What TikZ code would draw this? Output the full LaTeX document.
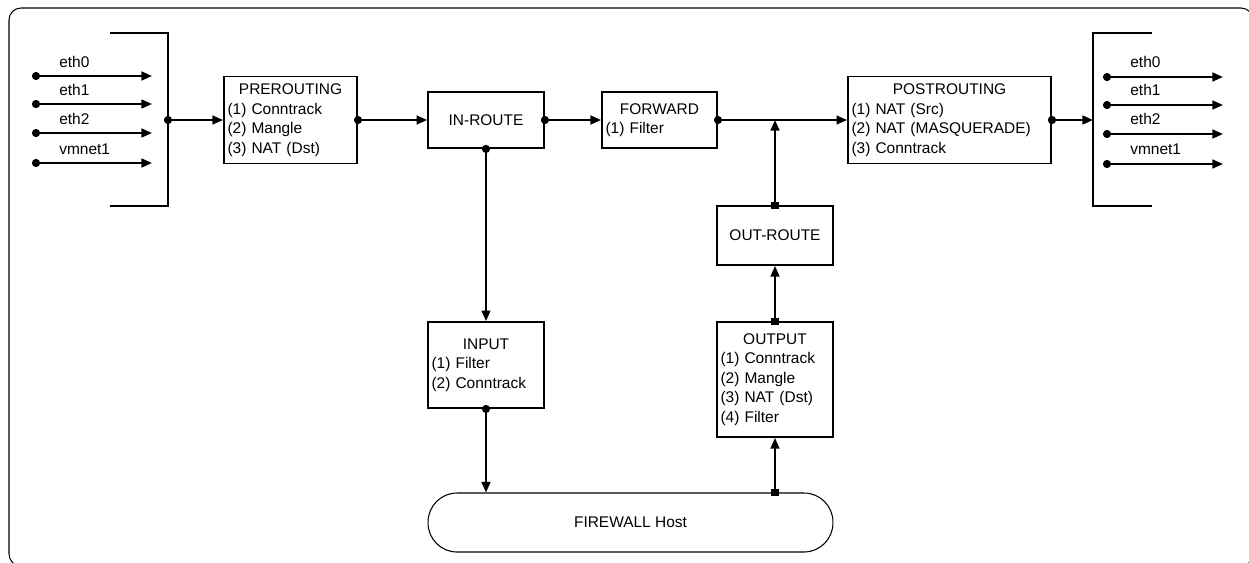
\documentclass[tikz,border=0pt]{standalone}
\usepackage{fontspec}
\setmainfont{Liberation Sans}
\usetikzlibrary{arrows.meta,calc}
\newcommand{\chainhead}[1]{\makebox[\hsize]{#1}}
\tikzset{
  chain node/.style={draw,line width=1.1pt,inner xsep=2pt,inner ysep=0pt,align=left},
  route node/.style={draw,line width=1.1pt,inner sep=0pt,align=center,
    minimum width=2.32cm},
  host node/.style={draw,line width=0.6pt,rounded corners=0.58cm,inner sep=0pt,
    minimum width=8.1cm,minimum height=1.18cm},
  port label/.style={anchor=west,inner sep=0pt},
  dot arrow/.style={line width=1.1pt,
    arrows={Circle[length=4.6pt]-Triangle[length=6pt,width=5pt]},shorten <=-2.3pt},
  box arrow/.style={line width=1.1pt,
    arrows={Square[length=4pt]-Triangle[length=6pt,width=5pt]},shorten <=-2pt},
  bus line/.style={line width=1.1pt},
  frame line/.style={line width=0.6pt,rounded corners=0.24cm}
}

\begin{document}
\begin{tikzpicture}[x=0.02cm,y=-0.02cm,font=\fontsize{8.8}{11.1}\selectfont]
  \useasboundingbox (0,0) rectangle (1249,562);
  \clip (0,0) rectangle (1249,562);
  \draw[frame line] (9,8) rectangle (1253,566);

  % chains
  \node[chain node,minimum width=2.66cm,minimum height=1.74cm,text width=2.52cm]
    (pre) at (290.5,120) {\chainhead{PREROUTING}\\(1) Conntrack\\(2) Mangle\\(3) NAT (Dst)};
  \node[route node,minimum height=1.12cm] (inroute) at (486,120) {IN-ROUTE};
  \node[chain node,minimum width=2.30cm,minimum height=1.12cm,text width=2.16cm]
    (fwd) at (659.5,120) {\chainhead{FORWARD}\\(1) Filter};
  \node[chain node,minimum width=4.06cm,minimum height=1.74cm,text width=3.92cm]
    (post) at (949.5,120) {\chainhead{POSTROUTING}\\(1) NAT (Src)\\(2) NAT (MASQUERADE)\\(3) Conntrack};
  \node[route node,minimum height=1.18cm] (outroute) at (775,235.5) {OUT-ROUTE};
  \node[chain node,minimum width=2.32cm,minimum height=1.72cm,text width=2.18cm]
    (input) at (486,365) {\chainhead{INPUT}\\(1) Filter\\(2) Conntrack};
  \node[chain node,minimum width=2.32cm,minimum height=2.30cm,text width=2.18cm]
    (output) at (775,379.5) {\chainhead{OUTPUT}\\(1) Conntrack\\(2) Mangle\\(3) NAT (Dst)\\(4) Filter};
  \node[host node] (host) at (630.5,522.5) {FIREWALL Host};

  % interfaces in
  \draw[bus line] (110,33) -| (168,206) -- (110,206);
  \coordinate (in-bus) at (168,120);
  \foreach \yy/\port in {76/eth0,104/eth1,133/eth2,163/vmnet1} {
    \coordinate (in-\port) at (36,\yy);
    \coordinate (in-\port-end) at (152,\yy);
    \draw[dot arrow] (in-\port) -- (in-\port-end);
    \node[port label] (in-\port-label) at (59,\yy-14) {\port};
  }

  % interfaces out
  \draw[bus line] (1152,33) -| (1093,206) -- (1152,206);
  \coordinate (out-bus) at (1093,120);
  \foreach \yy/\port in {77/eth0,105/eth1,134/eth2,164/vmnet1} {
    \coordinate (out-\port) at (1107,\yy);
    \coordinate (out-\port-end) at (1223,\yy);
    \draw[dot arrow] (out-\port) -- (out-\port-end);
    \node[port label] (out-\port-label) at (1130,\yy-15) {\port};
  }

  % packet flow
  \draw[dot arrow] (in-bus) -- (pre.west);
  \draw[dot arrow] (pre.east) -- (inroute.west);
  \draw[dot arrow] (inroute.east) -- (fwd.west);
  \draw[dot arrow] (fwd.east) -- (post.west);
  \draw[dot arrow] (post.east) -- (out-bus);
  \draw[dot arrow] (inroute.south) -- (input.north);
  \draw[dot arrow] (input.south) -- (input.south |- host.north);
  \draw[box arrow] (output.south |- host.north) -- (output.south);
  \draw[box arrow] (output.north) -- (outroute.south);
  \draw[box arrow] (outroute.north) -- (outroute.north |- fwd.east);
\end{tikzpicture}
\end{document}
